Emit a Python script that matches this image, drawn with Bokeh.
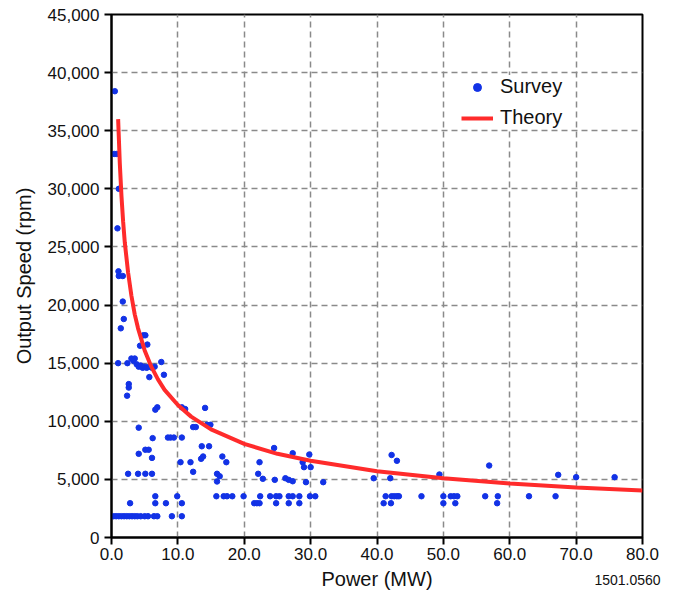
from bokeh.plotting import figure
from bokeh.models import Range1d, FixedTicker, NumeralTickFormatter, LinearAxis
from bokeh.embed import file_html
from bokeh.resources import INLINE

# ---- data ----
survey_power = [
    0.5, 0.4, 0.8, 1.1, 0.9, 1.05, 1.1, 1.7, 1.7, 1.85, 1.4,
    4.8, 5.1, 4.3, 5.4, 1.0, 2.4, 3.0, 3.5,
    3.3, 3.8, 4.1, 4.4, 4.7, 5.0, 5.3, 5.7, 6.1, 6.5,
    7.5, 7.9, 5.7, 2.6, 2.6, 2.35, 6.9, 6.6, 10.6, 11.1, 14.1,
    12.3, 12.7, 14.4, 14.9, 4.1, 6.2, 8.5, 8.9, 9.4, 10.6,
    13.6, 14.7, 5.1, 5.6, 4.1, 6.1, 13.5, 13.8, 10.4, 11.9, 12.3,
    16.7, 17.3, 2.5, 4.0, 5.1, 6.1, 15.9, 16.3, 15.9,
    22.3, 22.1, 22.8, 24.5, 24.6, 27.3, 29.8, 28.8, 29.0, 30.0,
    26.2, 26.7, 27.3, 29.3, 31.9,
    6.6, 9.9, 15.8, 16.9, 17.4, 18.2, 19.9, 22.4, 23.9, 24.8, 25.3, 26.7,
    27.3, 28.3, 29.9, 30.7, 41.3, 42.2, 42.6, 43.0, 43.3, 46.7, 50.0,
    51.1, 51.6, 52.1, 56.3, 58.2, 62.9, 66.9,
    2.8, 6.6, 8.2, 10.6, 21.5, 21.9, 22.3, 24.8, 26.7, 28.3, 41.0, 42.1,
    50.0, 51.8, 58.1,
    0.3, 0.7, 1.1, 1.5, 1.9, 2.3, 2.7, 3.1, 3.5, 3.9, 4.4, 5.0, 5.5,
    6.4, 6.9, 9.1, 10.6,
    39.5, 42.2, 43.0, 42.0, 49.4, 56.9, 67.3, 70.0, 75.8,
]
survey_speed = [
    38400, 33000, 33000, 30000, 26600, 22900, 22500, 22500, 20300, 18800, 18000,
    17400, 17400, 16500, 16600, 15000, 15000, 15400, 15400,
    15200, 14900, 14700, 14800, 14600, 14700, 14600, 14700, 14600, 14700,
    15100, 14000, 13800, 13200, 12900, 12200, 11200, 11000, 11200, 11050, 11150,
    9500, 9500, 9700, 9700, 9450, 8550, 8600, 8600, 8600, 8600,
    7850, 7850, 7550, 7550, 7200, 6850, 6770, 6970, 6480, 6480, 5650,
    6970, 6480, 5480, 5480, 5480, 5480, 5480, 5270, 4820,
    6480, 5480, 5050, 7700, 4960, 7250, 7140, 6480, 6050, 6050,
    5100, 4960, 4840, 4760, 4760,
    3550, 3550, 3550, 3550, 3550, 3550, 3550, 3550, 3550, 3550, 3550, 3550,
    3550, 3550, 3550, 3550, 3550, 3550, 3550, 3550, 3550, 3550, 3550,
    3550, 3550, 3550, 3550, 3550, 3550, 3550,
    2950, 2950, 2950, 2950, 2950, 2950, 2950, 2950, 2950, 2950, 2950, 2950,
    2950, 2950, 2950,
    1830, 1830, 1830, 1830, 1830, 1830, 1830, 1830, 1830, 1830, 1830, 1830, 1830,
    1830, 1830, 1830, 1830,
    5100, 7100, 6600, 5100, 5420, 6190, 5390, 5190, 5190,
]

theory_power = [1.0, 1.25, 1.5, 1.75, 2.0, 2.5, 3.0, 3.5, 4.0, 5.0, 6.0, 7.0, 8.0, 10.0,
                12.0, 15.0, 20.0, 25.0, 30.0, 40.0, 50.0, 60.0, 70.0, 80.0]
theory_speed = [36000, 32200, 29400, 27200, 25400, 22800, 20800, 19200, 18000, 16100,
                14700, 13600, 12700, 11400, 10400, 9300, 8050, 7200, 6600, 5700,
                5100, 4650, 4300, 4050]

x_ticks = [0, 10, 20, 30, 40, 50, 60, 70, 80]
y_ticks = [0, 5000, 10000, 15000, 20000, 25000, 30000, 35000, 40000, 45000]

x_title = "Power (MW)"
y_title = "Output Speed (rpm)"
figure_number = "1501.0560"

FONT = "Liberation Sans"
INK = "#111111"

p = figure(width=667, height=593, output_backend="svg", toolbar_location=None,
           x_range=Range1d(0, 80), y_range=Range1d(0, 45000),
           min_border_left=111, min_border_right=25, min_border_top=14,
           min_border_bottom=56, background_fill_color="white",
           border_fill_color="white")

p.outline_line_color = "black"
p.outline_line_width = 2

# grid
for g in (p.xgrid, p.ygrid):
    g.grid_line_color = "#8a8a8a"
    g.grid_line_dash = "6 4"
    g.grid_line_width = 1.5

p.xaxis.ticker = FixedTicker(ticks=x_ticks)
p.yaxis.ticker = FixedTicker(ticks=y_ticks)
p.xaxis.formatter = NumeralTickFormatter(format="0.0")
p.yaxis.formatter = NumeralTickFormatter(format="0,0")

for ax in (p.xaxis, p.yaxis):
    ax.axis_line_color = "black"
    ax.axis_line_width = 2
    ax.major_tick_line_color = "black"
    ax.major_tick_line_width = 2
    ax.major_tick_out = 7
    ax.major_tick_in = 0
    ax.minor_tick_line_color = None
    ax.major_label_text_font = FONT
    ax.major_label_text_font_size = "17px"
    ax.major_label_text_color = INK
    ax.axis_label_text_font = FONT
    ax.axis_label_text_font_size = "20px"
    ax.axis_label_text_font_style = "normal"
    ax.axis_label_text_color = INK

p.xaxis.major_label_standoff = 3
p.yaxis.major_label_standoff = 5
p.yaxis.axis_label = y_title
p.yaxis.axis_label_standoff = 10

# second, line-less axis below: carries the x title and, as its only tick
# label, the figure number at the lower right
number_pos = 77.75
title_axis = LinearAxis(ticker=FixedTicker(ticks=[number_pos]),
                        major_label_overrides={number_pos: figure_number},
                        axis_label=x_title)
title_axis.axis_line_color = None
title_axis.major_tick_line_color = None
title_axis.major_tick_out = 0
title_axis.major_tick_in = 0
title_axis.minor_tick_line_color = None
title_axis.major_label_standoff = 12
title_axis.major_label_text_font = FONT
title_axis.major_label_text_font_size = "14px"
title_axis.major_label_text_color = INK
title_axis.axis_label_standoff = -20
title_axis.axis_label_text_font = FONT
title_axis.axis_label_text_font_size = "20px"
title_axis.axis_label_text_font_style = "normal"
title_axis.axis_label_text_color = INK
p.add_layout(title_axis, "below")

# data
p.scatter(survey_power, survey_speed, size=5.5, color="#1232e6",
          legend_label="Survey")
p.line(theory_power, theory_speed, line_color="#ff2b2b", line_width=4,
       legend_label="Theory")

lg = p.legend[0]
lg.location = (350, 408)
lg.border_line_color = None
lg.background_fill_color = "white"
lg.background_fill_alpha = 1.0
lg.padding = 10
lg.margin = 0
lg.spacing = 8
lg.glyph_width = 32
lg.glyph_height = 20
lg.label_height = 20
lg.label_standoff = 7
lg.label_text_font = FONT
lg.label_text_font_size = "20px"
lg.label_text_color = INK

open("out.html", "w").write(file_html(p, INLINE))
